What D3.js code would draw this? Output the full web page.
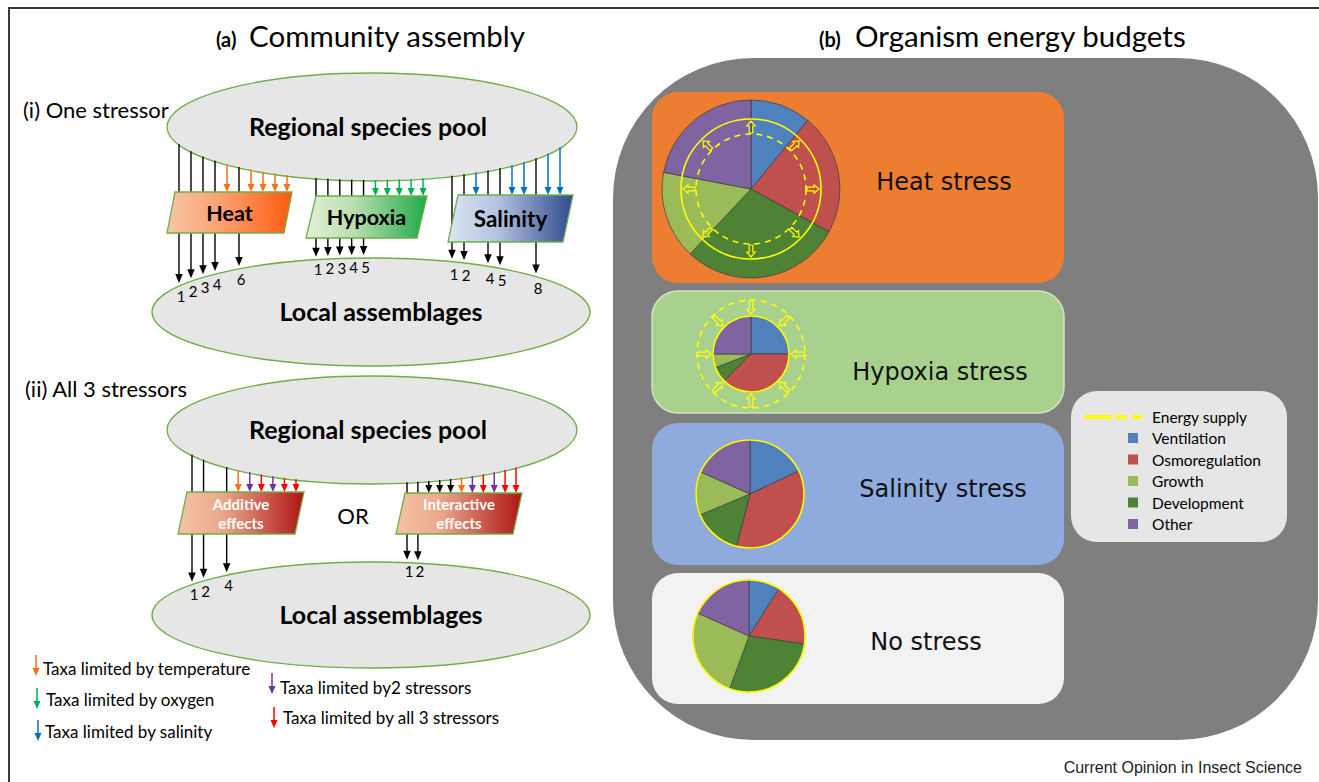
<!DOCTYPE html>
<html><head><meta charset="utf-8">
<script src="https://cdn.jsdelivr.net/npm/d3@7"></script>
<style>html,body{margin:0;padding:0;background:#fff;} svg{display:block;}</style>
</head><body>
<svg id="chart" width="1319" height="782"></svg>
<script>
// ---------------- DATA ----------------
// Panel (b): energy budget segments (clockwise from 12 o'clock), % of budget
const budgetSegments = ["Ventilation","Osmoregulation","Development","Growth","Other"];
const segmentColors  = ["#4F81BD","#C0504D","#4E8234","#9BBB59","#8064A2"];
const heatBudget     = [11, 22, 29, 16, 22];
const hypoxiaBudget  = [25, 37.5, 6.7, 5.8, 25];
const salinityBudget = [18, 36, 14.7, 13, 18.3];
const noStressBudget = [9, 18.3, 28.3, 26.1, 18.3];
const stressLabels   = ["Heat stress","Hypoxia stress","Salinity stress","No stress"];
const legendItems    = ["Ventilation","Osmoregulation","Growth","Development","Other"];
const legendColors   = ["#4F81BD","#C0504D","#9BBB59","#4E8234","#8064A2"];

// Panel (a): taxa (numbered 1..10) that pass each filter / are limited
const heatPass        = [1,2,3,4,6];
const heatLimited     = [5,7,8,9,10];
const hypoxiaPass     = [1,2,3,4,5];
const hypoxiaLimited  = [6,7,8,9,10];
const salinityPass    = [1,2,4,5,8];
const salinityLimited = [3,6,7,9,10];
const additivePass      = [1,2,4];
const additiveLimited   = [5,6,7,8,9,10];
const additiveLimitedBy = ["temperature","two","all","two","all","all"];
const interactivePass      = [1,2];
const interactiveLimited   = [3,4,5,6,7,8,9,10,11];
const interactiveLimitedBy = ["none","none","none","temperature","two","all","two","all","all"];
const arrowLegendKeys   = ["temperature","oxygen","salinity","two","all"];
const arrowLegendLabels = ["Taxa limited by temperature","Taxa limited by oxygen","Taxa limited by salinity","Taxa limited by2 stressors","Taxa limited by all 3 stressors"];

// ---------------- STYLE / LAYOUT ----------------
const limitColor = {temperature:"#F7701A", oxygen:"#00B050", salinity:"#0070C0", two:"#7030A0", all:"#FF0000", none:"#000"};
const CAL = "Lato, 'Open Sans', sans-serif";
const VER = "'DejaVu Sans', Verdana, sans-serif";
const svg = d3.select("#chart");
const defs = svg.append("defs");

function grad(id, stops){
  const g = defs.append("linearGradient").attr("id", id).attr("x1","0").attr("x2","1").attr("y1","0").attr("y2","0");
  stops.forEach(s => g.append("stop").attr("offset", s[0]).attr("stop-color", s[1]));
}
grad("heatG", [[0,"#F8C6A8"],[0.45,"#FB9F6E"],[1,"#FF5A0E"]]);
grad("hypG",  [[0,"#E2F0D9"],[0.4,"#B9DEB0"],[1,"#1FAA48"]]);
grad("salG",  [[0,"#DCE5F5"],[0.4,"#B3C2DE"],[1,"#2D4B8E"]]);
grad("redG",  [[0,"#F5C3A6"],[0.35,"#EBA88C"],[1,"#AE1515"]]);

svg.append("rect").attr("width",1319).attr("height",782).attr("fill","#fff");
// frame
svg.append("path").attr("d","M9,782 L9,8 L1319,8").attr("fill","none").attr("stroke","#3a3a3a").attr("stroke-width",2);

// titles
const t1 = svg.append("text").attr("y",47).attr("font-family",CAL).attr("fill","#000");
t1.append("tspan").attr("x",216).attr("font-size",20).attr("font-weight","bold").text("(a)");
t1.append("tspan").attr("x",249).attr("font-size",29.5).text("Community assembly");
const t2 = svg.append("text").attr("y",47).attr("font-family",CAL).attr("fill","#000");
t2.append("tspan").attr("x",819).attr("font-size",20).attr("font-weight","bold").text("(b)");
t2.append("tspan").attr("x",855).attr("font-size",29.5).text("Organism energy budgets");

svg.append("text").attr("x",23).attr("y",118).attr("font-family",CAL).attr("font-size",22).text("(i) One stressor");
svg.append("text").attr("x",25).attr("y",397).attr("font-family",CAL).attr("font-size",22).text("(ii) All 3 stressors");

// ---------------- PANEL (a) ----------------
const ellipses = {
  pool1:  {cx:372, cy:127, rx:205, ry:54, label:"Regional species pool", tx:368, ty:136},
  local1: {cx:371, cy:312, rx:219, ry:54, label:"Local assemblages", tx:381, ty:321},
  pool2:  {cx:372, cy:430, rx:205, ry:54, label:"Regional species pool", tx:368, ty:439},
  local2: {cx:371, cy:615, rx:219, ry:53, label:"Local assemblages", tx:381, ty:624}
};
const ellBottom = (e,x) => { const t=(x-e.cx)/e.rx; return e.cy + e.ry*Math.sqrt(Math.max(0,1-t*t)); };
const ellTop    = (e,x) => { const t=(x-e.cx)/e.rx; return e.cy - e.ry*Math.sqrt(Math.max(0,1-t*t)); };

const gEll = svg.append("g");
Object.values(ellipses).forEach(e => {
  gEll.append("ellipse").attr("cx",e.cx).attr("cy",e.cy).attr("rx",e.rx).attr("ry",e.ry)
    .attr("fill","#E6E6E6").attr("stroke","#70AD47").attr("stroke-width",1.3);
  gEll.append("text").attr("x",e.tx).attr("y",e.ty).attr("text-anchor","middle")
    .attr("font-family",CAL).attr("font-weight","bold").attr("font-size",25).text(e.label);
});

const gArr = svg.append("g");
function arrow(x, y0, y1, color, w, hl, hw){
  gArr.append("line").attr("x1",x).attr("x2",x).attr("y1",y0).attr("y2",y1-hl+1)
    .attr("stroke",color).attr("stroke-width",w);
  gArr.append("path").attr("d",`M${x-hw/2},${y1-hl} L${x+hw/2},${y1-hl} L${x},${y1} Z`).attr("fill",color);
}

const filters = [
  {label:["Heat"], pass:heatPass, lim:heatLimited, by:heatLimited.map(()=>"temperature"), dom:[1,10], rng:[179,287],
   para:{x:167,y:192,w:117,h:41,sk:8}, fill:"url(#heatG)", pool:ellipses.pool1, local:ellipses.local1, txt:"#000", fs:21.5, lblOff:13},
  {label:["Hypoxia"], pass:hypoxiaPass, lim:hypoxiaLimited, by:hypoxiaLimited.map(()=>"oxygen"), dom:[1,10], rng:[316,423],
   para:{x:306,y:196,w:111,h:42,sk:10}, fill:"url(#hypG)", pool:ellipses.pool1, local:ellipses.local1, txt:"#000", fs:21.5, lblOff:12},
  {label:["Salinity"], pass:salinityPass, lim:salinityLimited, by:salinityLimited.map(()=>"salinity"), dom:[1,10], rng:[452,560],
   para:{x:448,y:195,w:115,h:47,sk:10}, fill:"url(#salG)", pool:ellipses.pool1, local:ellipses.local1, txt:"#000", fs:22.5, lblOff:15},
  {label:["Additive","effects"], pass:additivePass, lim:additiveLimited, by:additiveLimitedBy, dom:[1,10], rng:[192,296],
   para:{x:178,y:492,w:117,h:42,sk:9}, fill:"url(#redG)", pool:ellipses.pool2, local:ellipses.local2, txt:"#fff", fs:15, lblOff:13},
  {label:["Interactive","effects"], pass:interactivePass, lim:interactiveLimited, by:interactiveLimitedBy, dom:[1,11], rng:[407,516],
   para:{x:396,y:493,w:117,h:41,sk:9}, fill:"url(#redG)", pool:ellipses.pool2, local:ellipses.local2, txt:"#fff", fs:15, lblOff:11}
];

const gPara = svg.append("g");
filters.forEach(f => {
  const xs = d3.scaleLinear().domain(f.dom).range(f.rng);
  f.pass.forEach(n => {
    const x = xs(n);
    const y0 = ellBottom(f.pool, x) - 1;
    const y1 = ellTop(f.local, x) - 3;
    arrow(x, y0, y1, "#000", 1.4, 9, 7.5);
    gArr.append("text").attr("x",x+2).attr("y",y1+f.lblOff).attr("text-anchor","middle")
      .attr("dominant-baseline","central").attr("font-family",CAL).attr("font-size",15).text(n);
  });
  f.lim.forEach((n,i) => {
    const x = xs(n);
    arrow(x, ellBottom(f.pool, x) - 1, f.para.y, limitColor[f.by[i]], 1.5, 8, 7);
  });
  const p = f.para;
  gPara.append("path")
    .attr("d",`M${p.x},${p.y+p.h} L${p.x+p.w},${p.y+p.h} L${p.x+p.w+p.sk},${p.y} L${p.x+p.sk},${p.y} Z`)
    .attr("fill",f.fill).attr("stroke","#70AD47").attr("stroke-width",1.3);
  const cx = p.x + p.w/2 + p.sk/2, cy = p.y + p.h/2;
  f.label.forEach((s,i) => {
    gPara.append("text").attr("x",cx).attr("y", cy + (i - (f.label.length-1)/2)*19)
      .attr("text-anchor","middle").attr("dominant-baseline","central")
      .attr("font-family",CAL).attr("font-weight","bold").attr("font-size",f.fs).attr("fill",f.txt).text(s);
  });
});

svg.append("text").attr("x",353).attr("y",515).attr("text-anchor","middle").attr("dominant-baseline","central")
  .attr("font-family",CAL).attr("font-size",22).text("OR");

// arrow legend
const legPos = [[36,655,43,668],[37,688,46,699],[38,720,45,731],[272,673,280,687],[274,707,283,717]];
arrowLegendKeys.forEach((k,i) => {
  const p = legPos[i];
  arrow(p[0], p[1], p[1]+21, limitColor[k], 1.5, 8, 7);
  svg.append("text").attr("x",p[2]).attr("y",p[3]).attr("dominant-baseline","central")
    .attr("font-family",CAL).attr("font-size",17).text(arrowLegendLabels[i]);
});

// ---------------- PANEL (b) ----------------
svg.append("rect").attr("x",613).attr("y",58).attr("width",705).attr("height",682).attr("rx",140).attr("ry",140).attr("fill","#7F7F7F");

const panels = [
  {y:92,  h:191, fill:"#ED7D31", stroke:"none", vals:heatBudget,     c:[751,189], r:89, lx:944, ly:190, mode:"expand"},
  {y:291, h:122, fill:"#A9D18E", stroke:"#CFE5C2", vals:hypoxiaBudget, c:[751,354], r:38, lx:940, ly:380, mode:"limit"},
  {y:423, h:142, fill:"#8FAADC", stroke:"none", vals:salinityBudget, c:[750,494], r:54, lx:943, ly:497, mode:"plain"},
  {y:573, h:131, fill:"#F2F2F2", stroke:"none", vals:noStressBudget, c:[749,636], r:56, lx:926, ly:650, mode:"plain"}
];
const pie = d3.pie().sort(null).value(d=>d);
const Y = "#FFFF00";
function blockArrow(g, cx, cy, angDeg, r0, r1){
  const L = Math.abs(r1-r0), dir = r1>r0 ? 1 : -1;
  const pts = [[0,-1.8],[L-5,-1.8],[L-5,-4.2],[L,0],[L-5,4.2],[L-5,1.8],[0,1.8]];
  const a = (angDeg-90)*Math.PI/180;
  const tr = pts.map(([u,v]) => {
    const rr = r0 + dir*u;
    return [cx + rr*Math.cos(a) - v*Math.sin(a), cy + rr*Math.sin(a) + v*Math.cos(a)];
  });
  g.append("path").attr("d","M"+tr.map(p=>p.join(",")).join("L")+"Z")
    .attr("fill","none").attr("stroke",Y).attr("stroke-width",1.2);
}
panels.forEach((p,i) => {
  svg.append("rect").attr("x",652).attr("y",p.y).attr("width",412).attr("height",p.h).attr("rx",26).attr("ry",26)
    .attr("fill",p.fill).attr("stroke",p.stroke).attr("stroke-width",1.5);
  const g = svg.append("g").attr("transform",`translate(${p.c[0]},${p.c[1]})`);
  const arc = d3.arc().innerRadius(0).outerRadius(p.r);
  g.selectAll("path.s").data(pie(p.vals)).join("path").attr("class","s").attr("d",arc)
    .attr("fill",(d,j)=>segmentColors[j]).attr("stroke","#3d3d3d").attr("stroke-width",0.7);
  if (p.mode !== "expand") {
    g.append("circle").attr("r",p.r).attr("fill","none").attr("stroke",Y).attr("stroke-width",1.6);
  }
  if (p.mode === "expand") {
    g.append("circle").attr("r",70).attr("fill","none").attr("stroke",Y).attr("stroke-width",1.6);
    g.append("circle").attr("r",55).attr("fill","none").attr("stroke",Y).attr("stroke-width",1.6).attr("stroke-dasharray","6,5");
    d3.range(0,360,45).forEach(a => blockArrow(g,0,0,a,56,68));
  }
  if (p.mode === "limit") {
    g.append("circle").attr("r",54).attr("fill","none").attr("stroke",Y).attr("stroke-width",1.6).attr("stroke-dasharray","6,5");
    d3.range(0,360,45).forEach(a => blockArrow(g,0,0,a,53,40));
  }
  svg.append("text").attr("x",p.lx).attr("y",p.ly).attr("text-anchor","middle")
    .attr("font-family",VER).attr("font-size",24).attr("fill","#111").text(stressLabels[i]);
});

// right legend
svg.append("rect").attr("x",1071).attr("y",391).attr("width",216).attr("height",151).attr("rx",26).attr("ry",26).attr("fill","#E7E6E6");
svg.append("line").attr("x1",1084).attr("x2",1142).attr("y1",417).attr("y2",417).attr("stroke",Y)
  .attr("stroke-width",4).attr("stroke-dasharray","28,3,12,5,11,50");
svg.append("text").attr("x",1152).attr("y",417).attr("dominant-baseline","central")
  .attr("font-family",CAL).attr("font-size",15.5).text("Energy supply");
legendItems.forEach((s,i) => {
  const yy = 438 + i*21.5;
  svg.append("rect").attr("x",1128).attr("y",yy-5).attr("width",10).attr("height",10).attr("fill",legendColors[i]);
  svg.append("text").attr("x",1152).attr("y",yy).attr("dominant-baseline","central")
    .attr("font-family",CAL).attr("font-size",15.5).text(s);
});

svg.append("text").attr("x",1302).attr("y",767).attr("text-anchor","end").attr("dominant-baseline","central")
  .attr("font-family","'Liberation Sans', Arial, sans-serif").attr("font-size",16).attr("fill","#222")
  .text("Current Opinion in Insect Science");
</script></body></html>
